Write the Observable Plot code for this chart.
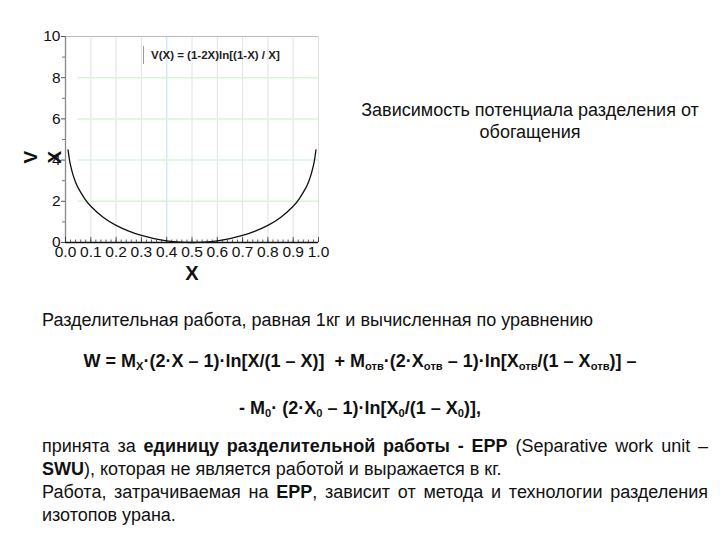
<!DOCTYPE html>
<html>
<head>
<meta charset="utf-8">
<script src="https://cdn.jsdelivr.net/npm/d3@7"></script>
<script src="https://cdn.jsdelivr.net/npm/@observablehq/plot@0.6"></script>
<style>
  html, body { margin: 0; padding: 0; background: #fff; }
  #page { position: relative; width: 720px; height: 540px; overflow: hidden; font-family: "Liberation Sans", Arial, sans-serif; color: #111; }
  #chart { position: absolute; left: 0; top: 0; }
  .abs { position: absolute; white-space: nowrap; }
  #legend { left: 143px; top: 46px; height: 18px; border-left: 1px solid #999; padding-left: 7px; font-size: 11.5px; font-weight: bold; line-height: 18px; color: #222; }
  #title { left: 340px; top: 99px; width: 380px; text-align: center; font-size: 18px; line-height: 22px; white-space: normal; }
  #l1 { left: 42px; top: 309px; font-size: 18px; line-height: 22px; }
  #f1 { left: 0; width: 720px; text-align: center; top: 350px; font-size: 18px; line-height: 22px; font-weight: bold; }
  #f2 { left: 0; width: 720px; text-align: center; top: 397px; font-size: 18px; line-height: 22px; font-weight: bold; }
  sub { font-size: 0.62em; vertical-align: -0.3em; line-height: 0; }
  .pl { left: 42px; width: 666px; font-size: 18px; line-height: 23px; }
  .j { text-align: justify; text-align-last: justify; }
</style>
</head>
<body>
<div id="page">
  <div id="chart"></div>
  <div class="abs" id="legend">V(X) = (1-2X)ln[(1-X) / X]</div>
  <div class="abs" id="title">Зависимость потенциала разделения от обогащения</div>
  <div class="abs" id="l1">Разделительная работа, равная 1кг и вычисленная по уравнению</div>
  <div class="abs" id="f1">W = M<sub>X</sub>·(2·X – 1)·ln[X/(1 – X)]&nbsp; + M<sub>отв</sub>·(2·X<sub>отв</sub> – 1)·ln[X<sub>отв</sub>/(1 – X<sub>отв</sub>)] –</div>
  <div class="abs" id="f2">- M<sub>0</sub>· (2·X<sub>0</sub> – 1)·ln[X<sub>0</sub>/(1 – X<sub>0</sub>)],</div>
  <div class="abs pl j" style="top:435px">принята за <b>единицу разделительной работы - ЕРР</b> (Separative work unit –</div>
  <div class="abs pl" style="top:458px"><b>SWU</b>), которая не является работой и выражается в кг.</div>
  <div class="abs pl j" style="top:481px">Работа, затрачиваемая на <b>ЕРР</b>, зависит от метода и технологии разделения</div>
  <div class="abs pl" style="top:504px">изотопов урана.</div>
</div>
<script>
// Curve values: V(X)
const xs = [0.01, 0.015, 0.02, 0.03, 0.04, 0.05, 0.075, 0.1, 0.15, 0.2, 0.25, 0.3, 0.35, 0.4, 0.45, 0.5,
            0.55, 0.6, 0.65, 0.7, 0.75, 0.8, 0.85, 0.9, 0.925, 0.95, 0.96, 0.97, 0.98, 0.985, 0.99];
const vs = [4.5, 4.06, 3.74, 3.27, 2.92, 2.65, 2.14, 1.76, 1.21, 0.83, 0.55, 0.34, 0.19, 0.08, 0.02, 0.0,
            0.02, 0.08, 0.19, 0.34, 0.55, 0.83, 1.21, 1.76, 2.14, 2.65, 2.92, 3.27, 3.74, 4.06, 4.5];
const xTicks = [0, 0.1, 0.2, 0.3, 0.4, 0.5, 0.6, 0.7, 0.8, 0.9, 1.0];
const xGrid = [0.1, 0.2, 0.3, 0.5, 0.6, 0.7, 0.8, 0.9, 1.0];
const xGridCyan = [0.4];
const xMinor = d3.range(0, 51).map(i => i / 50);
const yTicks = [0, 2, 4, 6, 8, 10];
const yMinor = [1, 3, 5, 7, 9];
const yGrid = [2, 4, 6, 8];

const data = xs.map((x, i) => ({x, v: vs[i]}));

const chart = Plot.plot({
  width: 340,
  height: 290,
  marginLeft: 65,
  marginRight: 22,
  marginTop: 36,
  marginBottom: 48,
  x: {domain: [0, 1]},
  y: {domain: [0, 10]},
  style: {fontFamily: "'Liberation Sans', Arial, sans-serif", color: "#111", background: "transparent", overflow: "visible"},
  marks: [
    Plot.ruleX(xGrid, {stroke: "#e2e2e2", strokeWidth: 1}),
    Plot.ruleX(xGridCyan, {stroke: "#cdebf3", strokeWidth: 1.5}),
    Plot.ruleY(yGrid, {x1: 0.05, x2: 1, stroke: "#d8f3d8", strokeWidth: 1.5}),
    Plot.ruleY([10], {x1: 0, x2: 1, stroke: "#bbbbbb"}),
    Plot.ruleX([0], {stroke: "#888", strokeWidth: 1.3}),
    Plot.ruleY([0], {stroke: "#111", strokeWidth: 1.3}),
    Plot.ruleX(xMinor, {y1: 0, y2: 0.12, stroke: "#333", strokeWidth: 0.8}),
    Plot.ruleX(xTicks, {y1: 0, y2: 0.25, stroke: "#333", strokeWidth: 0.8}),
    Plot.axisX(xTicks, {tickSize: 0, tickPadding: 3, tickFormat: d3.format(".1f"), fontSize: 15.5, label: null}),
    Plot.axisY(yTicks, {tickSize: 4, tickPadding: 1, fontSize: 15.5, label: null, stroke: "#555"}),
    Plot.axisY(yMinor, {tickSize: 3, tickFormat: () => "", label: null, stroke: "#777"}),
    Plot.line(data, {x: "x", y: "v", stroke: "#111", strokeWidth: 1.3, curve: "natural"}),
    Plot.text(["X"], {frameAnchor: "bottom", dy: 31, fontSize: 20, fontWeight: "bold", lineAnchor: "middle"}),
    Plot.text(["V"], {frameAnchor: "left", dx: -35, dy: 24, fontSize: 19, fontWeight: "bold", rotate: -90, lineAnchor: "middle"}),
    Plot.text(["X"], {frameAnchor: "left", dx: -11, dy: 24, fontSize: 19, fontWeight: "bold", rotate: -90, lineAnchor: "middle"})
  ]
});
document.getElementById("chart").appendChild(chart);
</script>
</body>
</html>
